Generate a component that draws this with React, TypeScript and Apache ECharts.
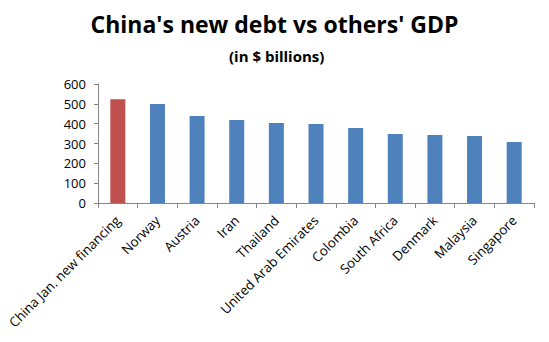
import React, { useEffect, useRef } from "react";
import * as echarts from "echarts";

const categories = [
  "China Jan. new financing",
  "Norway",
  "Austria",
  "Iran",
  "Thailand",
  "United Arab Emirates",
  "Colombia",
  "South Africa",
  "Denmark",
  "Malaysia",
  "Singapore",
];
const values = [523, 499, 439, 419, 403, 398, 378, 348, 343, 338, 308];
const highlightIndex = 0;
const yTicks = { min: 0, max: 600, interval: 100 };

const RED = "#C0504D";
const BLUE = "#4F81BD";
const AXIS = "#868686";
const FONT = "'Open Sans', sans-serif";

export default function App() {
  const ref = useRef<HTMLDivElement>(null);
  useEffect(() => {
    if (!ref.current) return;
    const chart = echarts.init(ref.current, undefined, { renderer: "svg" });
    chart.setOption({
      animation: false,
      backgroundColor: "#ffffff",
      title: [
        {
          text: "China's new debt vs others' GDP",
          left: "center",
          top: 7,
          textStyle: { fontFamily: FONT, fontSize: 23, fontWeight: "bold", color: "#000" },
        },
        {
          text: "(in $ billions)",
          left: 224,
          top: 43,
          textStyle: { fontFamily: FONT, fontSize: 15, fontWeight: "bold", color: "#000" },
        },
      ],
      grid: { left: 98, top: 84, right: 15, bottom: 139, containLabel: false },
      xAxis: {
        type: "category",
        data: categories,
        axisLine: { lineStyle: { color: AXIS } },
        axisTick: { show: true, length: 5, lineStyle: { color: AXIS }, alignWithLabel: false },
        axisLabel: {
          rotate: 45,
          interval: 0,
          margin: 15,
          fontFamily: FONT,
          fontSize: 13.3,
          color: "#000",
        },
      },
      yAxis: {
        type: "value",
        min: yTicks.min,
        max: yTicks.max,
        interval: yTicks.interval,
        splitLine: { show: false },
        axisLine: { show: true, lineStyle: { color: AXIS } },
        axisTick: { show: true, length: 4, lineStyle: { color: AXIS } },
        axisLabel: { fontFamily: FONT, fontSize: 13, color: "#000", margin: 12 },
      },
      series: [
        {
          type: "bar",
          data: values.map((v, i) => ({
            value: v,
            itemStyle: { color: i === highlightIndex ? RED : BLUE },
          })),
          barWidth: 15,
        },
      ],
    });
    return () => chart.dispose();
  }, []);
  return <div ref={ref} style={{ width: 549, height: 342, margin: -8 }} />;
}
